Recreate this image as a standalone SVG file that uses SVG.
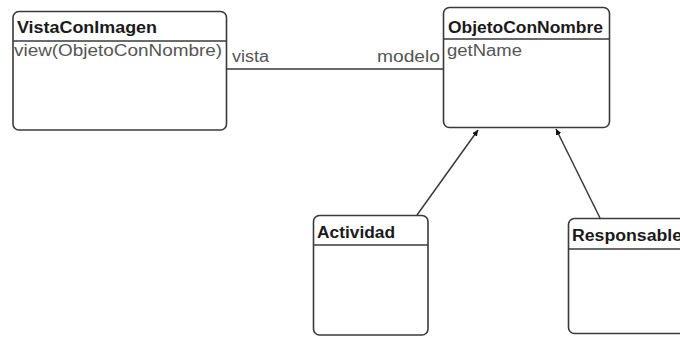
<svg xmlns="http://www.w3.org/2000/svg" width="680" height="337" viewBox="0 0 680 337">
  <style>
    .box { fill: #ffffff; stroke: #3a3a3a; stroke-width: 1.6; }
    .sep { stroke: #3a3a3a; stroke-width: 1.6; }
    .title { font-family: "Liberation Sans", Arial, sans-serif; font-weight: bold; font-size: 16px; fill: #1a1a1a; }
    .member { font-family: "Liberation Sans", Arial, sans-serif; font-size: 16px; fill: #555555; }
    .role { font-family: "Liberation Sans", Arial, sans-serif; font-size: 16px; fill: #555555; }
    .link { stroke: #3a3a3a; stroke-width: 1.5; fill: none; }
  </style>
  <defs>
    <marker id="arrow" viewBox="0 0 10 10" refX="10" refY="5" markerWidth="6" markerHeight="6" markerUnits="userSpaceOnUse" orient="auto">
      <path d="M0,0 L10,5 L0,10 z" fill="#111111"/>
    </marker>
  </defs>

  <rect width="680" height="337" fill="#ffffff"/>

  <g id="connectors">
    <line class="link" x1="227" y1="69" x2="443" y2="69"/>
    <text class="role" x="232" y="62" textLength="37" lengthAdjust="spacingAndGlyphs">vista</text>
    <text class="role" x="377" y="62" textLength="63" lengthAdjust="spacingAndGlyphs">modelo</text>
    <line class="link" x1="417" y1="215" x2="478" y2="130" marker-end="url(#arrow)"/>
    <line class="link" x1="600" y1="218" x2="556" y2="129" marker-end="url(#arrow)"/>
  </g>

  <g id="VistaConImagen">
    <rect class="box" x="13" y="11.5" width="213.5" height="118.5" rx="6"/>
    <line class="sep" x1="13" y1="41" x2="226.5" y2="41"/>
    <text class="title" x="17" y="33" textLength="140" lengthAdjust="spacingAndGlyphs">VistaConImagen</text>
    <text class="member" x="14" y="56" textLength="208" lengthAdjust="spacingAndGlyphs">view(ObjetoConNombre)</text>
  </g>

  <g id="ObjetoConNombre">
    <rect class="box" x="443.5" y="7.5" width="166" height="120" rx="6"/>
    <line class="sep" x1="443.5" y1="39" x2="609.5" y2="39"/>
    <text class="title" x="448" y="33" textLength="155" lengthAdjust="spacingAndGlyphs">ObjetoConNombre</text>
    <text class="member" x="447" y="56" textLength="75" lengthAdjust="spacingAndGlyphs">getName</text>
  </g>

  <g id="Actividad">
    <rect class="box" x="313.5" y="215.5" width="114.5" height="119.5" rx="6"/>
    <line class="sep" x1="313.5" y1="245" x2="428" y2="245"/>
    <text class="title" x="317" y="238" textLength="78" lengthAdjust="spacingAndGlyphs">Actividad</text>
  </g>

  <g id="Responsable">
    <rect class="box" x="568.5" y="218.5" width="130" height="115" rx="6"/>
    <line class="sep" x1="568.5" y1="249" x2="698.5" y2="249"/>
    <text class="title" x="572" y="241" textLength="110" lengthAdjust="spacingAndGlyphs">Responsable</text>
  </g>
</svg>
